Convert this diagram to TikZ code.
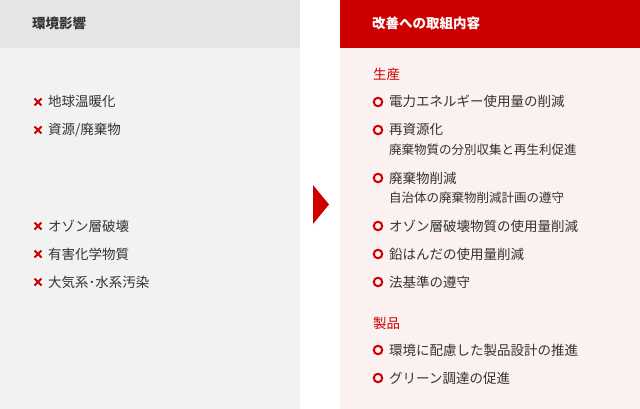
\documentclass[tikz,border=0pt]{standalone}
\usepackage{fontspec}
\setmainfont{Noto Sans CJK JP}
\definecolor{hdrgray}{HTML}{E5E5E5}
\definecolor{bodygray}{HTML}{F2F2F2}
\definecolor{red1}{HTML}{CC0000}
\definecolor{bodypink}{HTML}{FBF1F1}
\definecolor{txt}{HTML}{333333}
\tikzset{
  item/.style={anchor=base west, inner sep=0pt, text=txt, font=\fontsize{13.5pt}{15pt}\selectfont},
  subitem/.style={anchor=base west, inner sep=0pt, text=txt, font=\fontsize{12.5pt}{14pt}\selectfont},
  sechead/.style={anchor=base west, inner sep=0pt, text=red1, font=\fontsize{13.5pt}{15pt}\selectfont},
  hdrtxt/.style={anchor=base west, inner sep=0pt, font=\bfseries\fontsize{13.5pt}{15pt}\selectfont},
  ring/.style={circle, draw=red1, line width=2pt, minimum size=8.5pt, inner sep=0pt},
  cross/.style={draw=red1, line width=2pt},
}
\begin{document}
\begin{tikzpicture}[x=1pt,y=-1pt]
\useasboundingbox (0,0) rectangle (640,409);
\fill[white] (0,0) rectangle (640,409);
% panels
\fill[hdrgray] (0,0) rectangle (300,48);
\fill[bodygray] (0,48) rectangle (300,409);
\fill[red1] (340,0) rectangle (640,48);
\fill[bodypink] (340,48) rectangle (640,409);
% arrow
\coordinate (a1) at (313,185);
\coordinate (a2) at (329,204.5);
\coordinate (a3) at (313,224);
\fill[red1] (a1) -- (a2) -- (a3) -- cycle;
% headers
\node[hdrtxt, text=txt] (lh) at (32,29) {環境影響};
\node[hdrtxt, text=white] (rh) at (372,29) {改善への取組内容};
% left items
\foreach \y/\t [count=\i] in {102/{地球温暖化}, 130/{資源/廃棄物}, 226/{オゾン層破壊}, 254/{有害化学物質}, 282/{大気系･水系汚染}}{
  \draw[cross] (34.5,\y-3.5) -- (41.5,\y+3.5) (34.5,\y+3.5) -- (41.5,\y-3.5);
  \node[item] (l\i) at (48,\y+5) {\t};
}
% right section heads
\node[sechead] (s1) at (373,80) {生産};
\node[sechead] (s2) at (373,328) {製品};
% right items
\foreach \y/\t [count=\i] in {102/電力エネルギー使用量の削減, 130/再資源化, 178/廃棄物削減, 226/オゾン層破壊物質の使用量削減, 254/鉛はんだの使用量削減, 282/法基準の遵守, 350/環境に配慮した製品設計の推進, 378/グリーン調達の促進}{
  \node[ring] (c\i) at (378,\y) {};
  \node[item] (r\i) at (389,\y+5) {\t};
}
\node[subitem] (d2) at (389,154) {廃棄物質の分別収集と再生利促進};
\node[subitem] (d3) at (389,202.5) {自治体の廃棄物削減計画の遵守};
\end{tikzpicture}
\end{document}
